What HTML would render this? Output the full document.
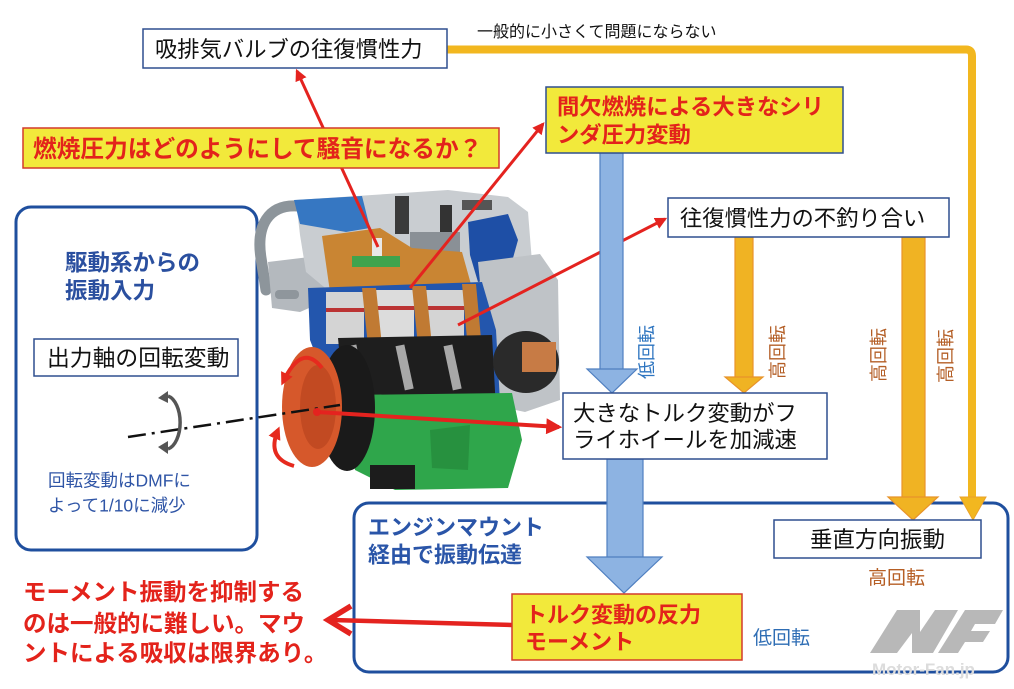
<!DOCTYPE html>
<html><head><meta charset="utf-8"><style>
html,body{margin:0;padding:0;background:#fff;}
svg{display:block;}
text{font-family:"Liberation Sans","Noto Sans CJK JP",sans-serif;}
</style></head><body>
<svg width="1014" height="689" viewBox="0 0 1014 689" xmlns="http://www.w3.org/2000/svg">
<defs>
<marker id="ra" viewBox="0 0 10 10" refX="8" refY="5" markerWidth="4" markerHeight="4" orient="auto"><path d="M0,0 L10,5 L0,10 z" fill="#e4231f"/></marker>
<marker id="rb" viewBox="0 0 10 10" refX="7" refY="5" markerWidth="3.2" markerHeight="3.2" orient="auto"><path d="M0,0 L10,5 L0,10 z" fill="#e62a1e"/></marker>
</defs>
<rect width="1014" height="689" fill="#fff"/>

<!-- blue rounded boxes -->
<rect x="16" y="207" width="241" height="343" rx="15" fill="#fff" stroke="#1f4f9e" stroke-width="3"/>
<rect x="354" y="503" width="654" height="169" rx="15" fill="#fff" stroke="#1f4f9e" stroke-width="3"/>

<!-- ENGINE -->
<g>
<path d="M298,206 C268,204 256,226 261,258 L266,290" fill="none" stroke="#8d959b" stroke-width="11" stroke-linecap="round"/>
<polygon points="268,262 326,255 332,298 300,312 272,308" fill="#b4b9be"/>
<rect x="275" y="290" width="24" height="9" rx="4" fill="#8f969c"/>
<polygon points="296,200 372,195 448,190 508,197 528,212 532,262 522,288 470,294 330,292 306,272 300,235" fill="#c9cdd1"/>
<rect x="395" y="196" width="14" height="38" fill="#3a3a3a"/>
<rect x="440" y="205" width="12" height="40" fill="#333"/>
<rect x="462" y="200" width="30" height="10" fill="#555"/>
<rect x="410" y="232" width="50" height="20" fill="#8a9096"/>
<polygon points="294,200 362,196 370,228 346,232 300,224" fill="#3677c2"/>
<polygon points="322,236 380,228 412,248 462,252 472,288 330,292" fill="#c98533"/>
<rect x="352" y="256" width="48" height="11" fill="#3fa34d"/>
<rect x="372" y="238" width="10" height="18" fill="#e8e8e8"/>
<polygon points="468,222 508,214 518,240 508,276 478,282 470,255" fill="#1e4fa6"/>
<polygon points="478,262 540,254 558,280 560,400 525,412 492,405" fill="#bfc3c7"/>
<polygon points="308,288 482,282 496,330 500,402 335,405 310,340" fill="#2356ad"/>
<rect x="326" y="292" width="38" height="52" fill="#d4d4d4"/>
<rect x="376" y="290" width="38" height="54" fill="#dcdcdc"/>
<rect x="426" y="290" width="38" height="54" fill="#d4d4d4"/>
<rect x="326" y="308" width="38" height="4" fill="#b33"/>
<rect x="376" y="306" width="38" height="4" fill="#b33"/>
<rect x="426" y="306" width="38" height="4" fill="#b33"/>
<polygon points="362,288 376,288 382,346 368,346" fill="#c07a33"/>
<polygon points="412,286 426,286 432,346 418,346" fill="#c07a33"/>
<polygon points="462,284 476,284 482,350 468,350" fill="#c07a33"/>
<polygon points="338,338 492,335 496,410 345,412" fill="#1e1e1e"/>
<rect x="352" y="345" width="9" height="45" fill="#a8a8a8" transform="rotate(-12 356 367)"/>
<rect x="400" y="345" width="9" height="45" fill="#a8a8a8" transform="rotate(-12 404 367)"/>
<rect x="448" y="345" width="9" height="45" fill="#a8a8a8" transform="rotate(-12 452 367)"/>
<ellipse cx="526" cy="362" rx="33" ry="31" fill="#2a2a2a"/>
<rect x="522" y="342" width="34" height="30" fill="#c77b45"/>
<polygon points="345,395 512,393 522,440 508,488 395,490 355,470" fill="#2fa64b"/>
<polygon points="430,430 470,425 468,470 432,468" fill="#27913f"/>
<rect x="370" y="465" width="45" height="24" fill="#1c1c1c"/>
<ellipse cx="347" cy="408" rx="28" ry="63" fill="#1a1a1a"/>
<ellipse cx="312" cy="407" rx="30" ry="60" fill="#d6582b"/>
<ellipse cx="318" cy="407" rx="18" ry="42" fill="#c24a22"/>
</g>

<!-- red rotation arrows around flywheel -->
<path d="M322,368 Q302,342 283,382" fill="none" stroke="#e62a1e" stroke-width="4" marker-end="url(#rb)"/>
<path d="M294,466 Q266,458 278,430" fill="none" stroke="#e62a1e" stroke-width="4" marker-end="url(#rb)"/>

<!-- dash-dot axis -->
<line x1="128" y1="437" x2="340" y2="405" stroke="#111" stroke-width="2.5" stroke-dasharray="18,6,3,6"/>

<!-- gray rotation symbol -->
<path d="M168,396 A15,27 0 0,1 168,449" fill="none" stroke="#555" stroke-width="3.5"/>
<polygon points="158,398 168,391 168,403" fill="#555"/>
<polygon points="158,447 168,441 168,454" fill="#555"/>

<!-- red pointer arrows -->
<line x1="378" y1="247" x2="297" y2="71" stroke="#e4231f" stroke-width="3" marker-end="url(#ra)"/>
<line x1="410" y1="288" x2="543" y2="124" stroke="#e4231f" stroke-width="3" marker-end="url(#ra)"/>
<line x1="458" y1="325" x2="665" y2="219" stroke="#e4231f" stroke-width="3" marker-end="url(#ra)"/>
<line x1="317" y1="412" x2="559" y2="427" stroke="#e4231f" stroke-width="4" marker-end="url(#ra)"/>
<circle cx="317" cy="412" r="4" fill="#e4231f"/>
<line x1="512" y1="625" x2="332" y2="620" stroke="#e4231f" stroke-width="4.5"/>
<polyline points="351,606 328,620 351,634" fill="none" stroke="#e4231f" stroke-width="5.5"/>

<!-- orange top connector -->
<path d="M447,49.5 H966 Q972,49.5 972,56 V500" fill="none" stroke="#f2b71f" stroke-width="8"/>
<polygon points="960,497 986,497 973,520" fill="#f2b71f" stroke="#eaa22a" stroke-width="1"/>

<!-- orange arrows -->
<rect x="735" y="237" width="18" height="141" fill="#f0b323" stroke="#e8932a" stroke-width="1.2"/>
<polygon points="725,377 763,377 744,393" fill="#f0b323" stroke="#e8932a" stroke-width="1.2"/>
<rect x="902" y="237" width="23" height="261" fill="#f0b323" stroke="#e8932a" stroke-width="1.2"/>
<polygon points="888,497 938,497 913,520" fill="#f0b323" stroke="#e8932a" stroke-width="1.2"/>

<!-- blue arrows -->
<rect x="600" y="153" width="23" height="217" fill="#8db3e2" stroke="#4f7fc0" stroke-width="1.2"/>
<polygon points="587,369 637,369 612,393" fill="#8db3e2" stroke="#4f7fc0" stroke-width="1.2"/>
<rect x="607" y="459" width="36" height="99" fill="#8db3e2" stroke="#4f7fc0" stroke-width="1.2"/>
<polygon points="587,557 662,557 624,593" fill="#8db3e2" stroke="#4f7fc0" stroke-width="1.2"/>

<!-- vertical labels -->
<text transform="translate(646,352) rotate(-90)" y="7" text-anchor="middle" font-size="18" fill="#2e75c0">低回転</text>
<text transform="translate(777,352) rotate(-90)" y="7" text-anchor="middle" font-size="18" fill="#b45f27">高回転</text>
<text transform="translate(878,355) rotate(-90)" y="7" text-anchor="middle" font-size="18" fill="#b45f27">高回転</text>
<text transform="translate(945,356) rotate(-90)" y="7" text-anchor="middle" font-size="18" fill="#b45f27">高回転</text>

<!-- top boxes -->
<rect x="143" y="29" width="304" height="39" fill="#fff" stroke="#2f4f8f" stroke-width="1.5"/>
<text x="155" y="57" font-size="22.3" fill="#111">吸排気バルブの往復慣性力</text>
<text x="477" y="37" font-size="16" fill="#111">一般的に小さくて問題にならない</text>

<rect x="23" y="128" width="476" height="40" fill="#f2e93b" stroke="#d33a2c" stroke-width="1.5"/>
<text x="33" y="157" font-size="23.7" font-weight="bold" fill="#e3231b">燃焼圧力はどのようにして騒音になるか？</text>

<rect x="546" y="87" width="297" height="66" fill="#f2e93b" stroke="#2f4f8f" stroke-width="1.5"/>
<text x="557" y="114.5" font-size="22.3" font-weight="bold" fill="#e3231b">間欠燃焼による大きなシリ</text>
<text x="557" y="142.5" font-size="22.3" font-weight="bold" fill="#e3231b">ンダ圧力変動</text>

<rect x="668" y="198" width="281" height="39" fill="#fff" stroke="#2f4f8f" stroke-width="1.5"/>
<text x="680" y="226" font-size="22.3" fill="#111">往復慣性力の不釣り合い</text>

<!-- left box content -->
<text x="65" y="270.5" font-size="22.5" font-weight="bold" fill="#2a4f9f">駆動系からの</text>
<text x="65" y="298.5" font-size="22.5" font-weight="bold" fill="#2a4f9f">振動入力</text>
<rect x="34" y="339" width="204" height="37" fill="#fff" stroke="#2f4f8f" stroke-width="1.5"/>
<text x="47" y="366" font-size="22.8" fill="#111">出力軸の回転変動</text>
<text x="48" y="486.5" font-size="17.5" fill="#2f55a6">回転変動はDMFに</text>
<text x="48" y="511.5" font-size="17.5" fill="#2f55a6">よって1/10に減少</text>

<!-- middle box -->
<rect x="563" y="393" width="264" height="66" fill="#fff" stroke="#2f4f8f" stroke-width="1.5"/>
<text x="573" y="421" font-size="22.4" fill="#111">大きなトルク変動がフ</text>
<text x="573" y="447.5" font-size="22.4" fill="#111">ライホイールを加減速</text>

<!-- bottom box content -->
<text x="368" y="535" font-size="22" font-weight="bold" fill="#2a55a8">エンジンマウント</text>
<text x="368" y="562.5" font-size="22" font-weight="bold" fill="#2a55a8">経由で振動伝達</text>

<rect x="512" y="594" width="230" height="66" fill="#f2e93b" stroke="#d33a2c" stroke-width="1.5"/>
<text x="525" y="622.5" font-size="22" font-weight="bold" fill="#e3231b">トルク変動の反力</text>
<text x="525" y="649.5" font-size="22" font-weight="bold" fill="#e3231b">モーメント</text>

<rect x="774" y="520" width="207" height="38" fill="#fff" stroke="#2f4f8f" stroke-width="1.5"/>
<text x="810" y="547.5" font-size="22.5" fill="#111">垂直方向振動</text>
<text x="868" y="584" font-size="19" fill="#b65e24">高回転</text>
<text x="753" y="644" font-size="19" fill="#2e6db4">低回転</text>

<!-- MF logo -->
<polygon points="870,653 897,610 920,610 920,632 935,610 958,610 933,653 912,653 912,633 897,653" fill="#b8b8b8"/>
<polygon points="938,653 965,610 1003,610 995,624 975,624 971,631 990,631 983,642 965,642 958,653" fill="#b8b8b8"/>
<text x="872" y="675" font-size="17" font-weight="bold" fill="#dcdcdc">Motor-Fan.jp</text>

<!-- bottom-left red text -->
<text x="23" y="600" font-size="23.5" font-weight="bold" fill="#e3231b">モーメント振動を抑制する</text>
<text x="23" y="631.5" font-size="23.5" font-weight="bold" fill="#e3231b">のは一般的に難しい。マウ</text>
<text x="23" y="661" font-size="23.5" font-weight="bold" fill="#e3231b">ントによる吸収は限界あり。</text>
</svg>
</body></html>
